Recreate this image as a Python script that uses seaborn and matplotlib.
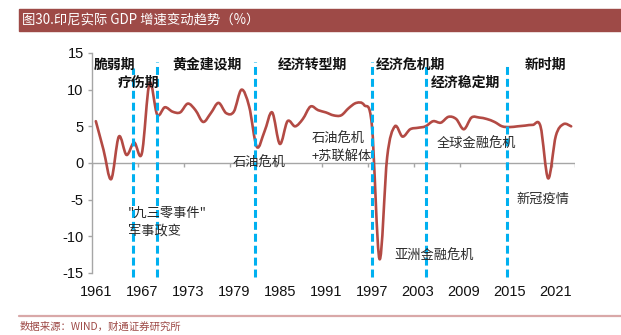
import matplotlib
matplotlib.use("Agg")
import matplotlib.pyplot as plt
import numpy as np
import pandas as pd
import seaborn as sns
from matplotlib.path import Path
from matplotlib.patches import PathPatch, Rectangle
from matplotlib.lines import Line2D

# Indonesia real GDP growth, %
years = list(range(1961, 2024))
gdp = [5.7, 1.8, -2.2, 3.6, 1.1, 2.8, 1.3, 10.9, 6.6, 7.6,
       7.0, 6.9, 8.1, 7.2, 5.6, 6.8, 8.2, 6.8, 7.0, 10.0,
       7.7, 2.2, 4.3, 6.9, 2.6, 5.7, 5.0, 6.0, 7.7, 7.2,
       6.9, 6.5, 6.5, 7.5, 8.2, 7.9, 5.2, -13.1, 0.8, 5.0,
       3.6, 4.6, 4.8, 5.0, 5.7, 5.5, 6.3, 6.0, 4.6, 6.2,
       6.2, 6.0, 5.6, 5.0, 4.9, 5.0, 5.1, 5.2, 5.0, -2.1,
       3.7, 5.3, 5.0]

tick_years = [1961, 1967, 1973, 1979, 1985, 1991, 1997, 2003, 2009, 2015, 2021]
yticks = [-15, -10, -5, 0, 5, 10, 15]

# period boundaries (dashed lines) and their upper ends
breaks = [1965.8, 1969.0, 1981.8, 1997.0, 2004.0, 2014.6]
break_tops = [13.0, 13.8, 13.8, 13.8, 13.4, 13.4]

periods = ["脆弱期", "疗伤期", "黄金建设期", "经济转型期", "经济危机期", "经济稳定期", "新时期"]
period_x = [1963.5, 1966.6, 1975.5, 1989.2, 2002.0, 2009.2, 2019.6]
period_y = [13.4, 10.9, 13.4, 13.4, 13.4, 10.9, 13.4]

events = ["石油危机", "石油危机\n+苏联解体", "\"九三零事件\"\n军事政变",
          "亚洲金融危机", "全球金融危机", "新冠疫情"]
event_x = [1978.9, 1989.2, 1965.2, 2000.0, 2005.4, 2015.8]
event_y = [0.0, 2.1, -8.05, -12.7, 2.5, -4.9]

LINE = "#B34A44"
BLUE = "#00B0F0"
GREY = "#A6A6A6"
HEAD = "#9E4A47"

sns.set_theme(style="white")
plt.rcParams["font.family"] = ["Noto Sans CJK SC", "DejaVu Sans"]

fig = plt.figure(figsize=(6.21, 3.35), dpi=100)
ax = fig.add_axes([92 / 621, 1 - 273 / 335, (575 - 92) / 621, 220 / 335])

df = pd.DataFrame({"year": years, "gdp": gdp})
sns.lineplot(data=df, x="year", y="gdp", ax=ax, color=LINE, lw=1.9)

# redraw the series as a smooth Bezier curve through the same points
line = ax.lines[0]
pts = line.get_xydata()
ext = np.vstack([pts[0], pts, pts[-1]])
verts = [tuple(pts[0])]
codes = [Path.MOVETO]
for i in range(1, len(ext) - 2):
    p0, p1, p2, p3 = ext[i - 1], ext[i], ext[i + 1], ext[i + 2]
    c1 = p1 + (p2 - p0) / 6.0
    c2 = p2 - (p3 - p1) / 6.0
    verts += [tuple(c1), tuple(c2), tuple(p2)]
    codes += [Path.CURVE4] * 3
ax.add_patch(PathPatch(Path(verts, codes), fill=False, edgecolor=line.get_color(),
                       lw=line.get_linewidth(), capstyle="round", joinstyle="round", zorder=3))
line.remove()

ax.set_xlim(years[0] - 0.5, years[-1] + 0.5)
ax.set_ylim(-15, 15)

# zero axis with category tick marks
ax.axhline(0, color=GREY, lw=1.0, zorder=1)
bounds = [y - 0.5 for y in tick_years] + [years[-1] + 0.5]
ax.vlines(bounds, -0.55, 0, color=GREY, lw=1.0, zorder=1)

# period boundaries
for bx, top in zip(breaks, break_tops):
    ax.add_line(Line2D([bx, bx], [-15.5, top], color=BLUE, lw=2.2,
                       dashes=(2.6, 1.3), clip_on=False, zorder=4))

for s in ["top", "right", "bottom"]:
    ax.spines[s].set_visible(False)
ax.spines["left"].set_color(GREY)
ax.spines["left"].set_linewidth(1.0)

ax.set_xticks(tick_years)
ax.set_xticklabels([str(y) for y in tick_years], family="Liberation Sans", fontsize=10.5, color="#111111")
ax.tick_params(axis="x", length=0, pad=9)
ax.set_yticks(yticks)
ax.set_yticklabels([str(v) for v in yticks], family="Liberation Sans", fontsize=10.5, color="#111111")
ax.tick_params(axis="y", length=3, width=1.0, color=GREY, pad=3, left=True)
ax.set_xlabel("")
ax.set_ylabel("")

for t, x, y in zip(periods, period_x, period_y):
    ax.text(x, y, t, ha="center", va="center", fontsize=10, fontweight="bold",
            color="#111111", zorder=5)

for t, x, y in zip(events, event_x, event_y):
    ax.text(x, y, t, ha="left", va="center", fontsize=9.5, color="#2a2a2a",
            linespacing=1.45, zorder=5)

# header bar and source line
fig.patches.append(Rectangle((19 / 621, 1 - 31 / 335), 602 / 621, 22 / 335,
                             transform=fig.transFigure, color=HEAD, zorder=0))
fig.text(22 / 621, 1 - 20.5 / 335, "图30.印尼实际 GDP 增速变动趋势（%）", color="white",
         fontsize=9.6, ha="left", va="center")
fig.lines.append(Line2D([19 / 621, 1], [1 - 316 / 335] * 2, transform=fig.transFigure,
                        color="#D9A8A8", lw=1.6))
fig.text(20 / 621, 1 - 327 / 335, "数据来源：WIND，财通证券研究所", color=HEAD,
         fontsize=7.5, ha="left", va="center")

fig.savefig("out.png", dpi=100)
